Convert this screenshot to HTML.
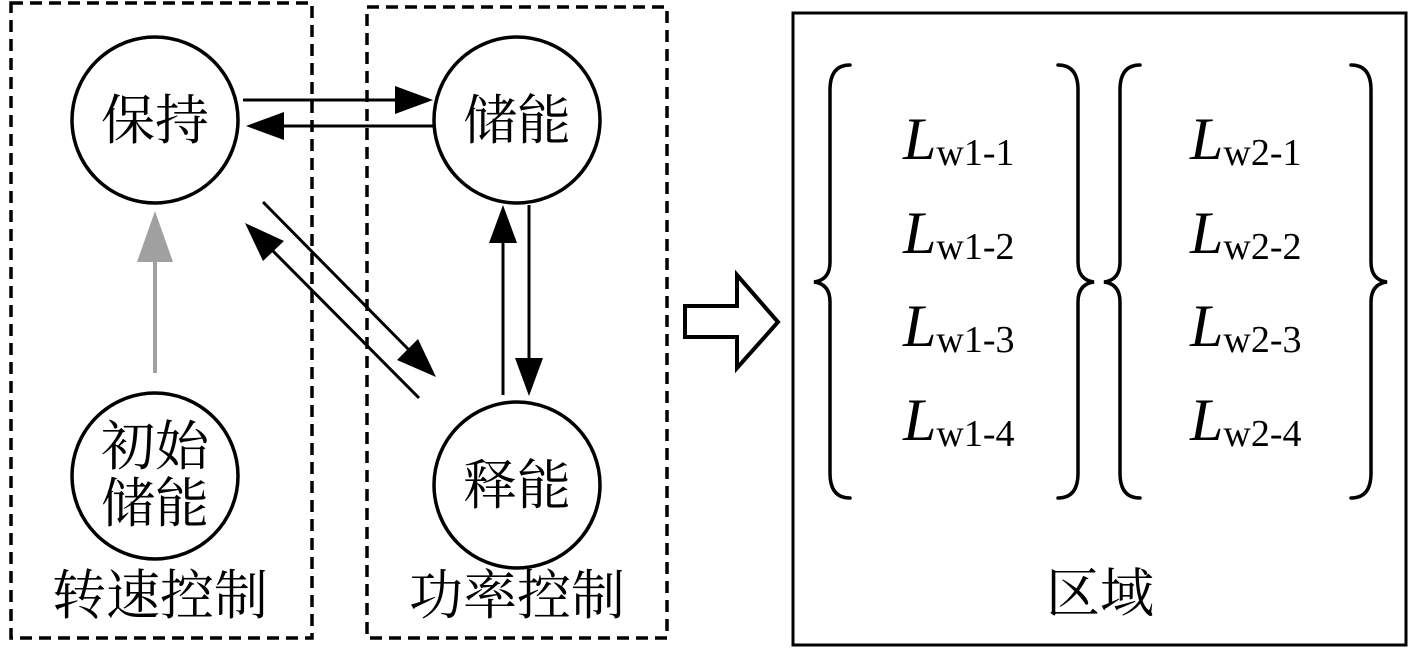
<!DOCTYPE html>
<html><head><meta charset="utf-8"><style>
html,body{margin:0;padding:0;background:#fff;}
svg{display:block;}
.cj{font-family:"Noto Serif CJK SC","Noto Sans CJK SC","WenQuanYi Zen Hei",serif;font-size:54px;fill:#000;}
.L{font-family:"Liberation Serif",serif;font-style:italic;font-size:60px;}
.s{font-family:"Liberation Serif",serif;font-style:normal;font-size:38px;}
</style></head><body>
<svg width="1417" height="648" viewBox="0 0 1417 648" xmlns="http://www.w3.org/2000/svg">
<g fill="none" stroke="#000" stroke-width="3.5" stroke-dasharray="12,7">
<rect x="11" y="3" width="301" height="635"/>
<rect x="367" y="7" width="300" height="631"/>
</g>
<rect x="793" y="13" width="613" height="632" fill="none" stroke="#000" stroke-width="3"/>
<g fill="#fff" stroke="#000" stroke-width="3.5">
<circle cx="155" cy="120" r="83"/>
<circle cx="517" cy="120" r="83"/>
<circle cx="155" cy="476" r="83"/>
<circle cx="517" cy="485" r="83"/>
</g>
<g class="cj" text-anchor="middle">
<text x="155" y="139">保持</text>
<text x="517" y="139">储能</text>
<text x="155" y="465">初始</text>
<text x="155" y="522">储能</text>
<text x="517" y="504">释能</text>
<text x="160" y="614">转速控制</text>
<text x="517" y="614">功率控制</text>
<text x="1100" y="612">区域</text>
</g>
<g stroke="#000" stroke-width="3" fill="#000">
<line x1="243" y1="100" x2="400" y2="100"/><path d="M433,100 L395,86 L395,114 Z" stroke="none"/>
<line x1="433" y1="126" x2="280" y2="126"/><path d="M246,126 L284,112 L284,140 Z" stroke="none"/>
<line x1="263" y1="202" x2="412" y2="353"/><path d="M436,377 L397,360 L418,339 Z" stroke="none"/>
<line x1="419" y1="398" x2="268" y2="246"/><path d="M245,223 L263,261 L284,241 Z" stroke="none"/>
<line x1="503" y1="395" x2="503" y2="240"/><path d="M503,205 L489,243 L517,243 Z" stroke="none"/>
<line x1="529" y1="205" x2="529" y2="360"/><path d="M529,396 L515,358 L543,358 Z" stroke="none"/>
</g>
<line x1="155" y1="373" x2="155" y2="250" stroke="#a0a0a0" stroke-width="4"/>
<path d="M155,211 L137,262 L173,262 Z" fill="#a0a0a0"/>
<path d="M685,306 L737,306 L737,275 L778,322 L737,368 L737,337 L685,337 Z" fill="#fff" stroke="#000" stroke-width="4" stroke-linejoin="miter"/>
<g fill="none" stroke="#000" stroke-width="3.5" stroke-linecap="round">
<path d="M850,65 Q830,65 830,90 L830,262 Q830,280 814,282 Q830,284 830,302 L830,473 Q830,498 850,498"/>
<path d="M1058,65 Q1078,65 1078,90 L1078,262 Q1078,280 1094,282 Q1078,284 1078,302 L1078,473 Q1078,498 1058,498"/>
<path d="M1140,65 Q1120,65 1120,90 L1120,262 Q1120,280 1104,282 Q1120,284 1120,302 L1120,473 Q1120,498 1140,498"/>
<path d="M1351,65 Q1371,65 1371,90 L1371,262 Q1371,280 1387,282 Q1371,284 1371,302 L1371,473 Q1371,498 1351,498"/>
</g>
<g class="L">
<text x="903" y="159">L<tspan class="s" dy="6">w1-1</tspan></text>
<text x="903" y="253">L<tspan class="s" dy="6">w1-2</tspan></text>
<text x="903" y="346">L<tspan class="s" dy="6">w1-3</tspan></text>
<text x="903" y="440">L<tspan class="s" dy="6">w1-4</tspan></text>
<text x="1190" y="159">L<tspan class="s" dy="6">w2-1</tspan></text>
<text x="1190" y="253">L<tspan class="s" dy="6">w2-2</tspan></text>
<text x="1190" y="346">L<tspan class="s" dy="6">w2-3</tspan></text>
<text x="1190" y="440">L<tspan class="s" dy="6">w2-4</tspan></text>
</g>
</svg>
</body></html>
